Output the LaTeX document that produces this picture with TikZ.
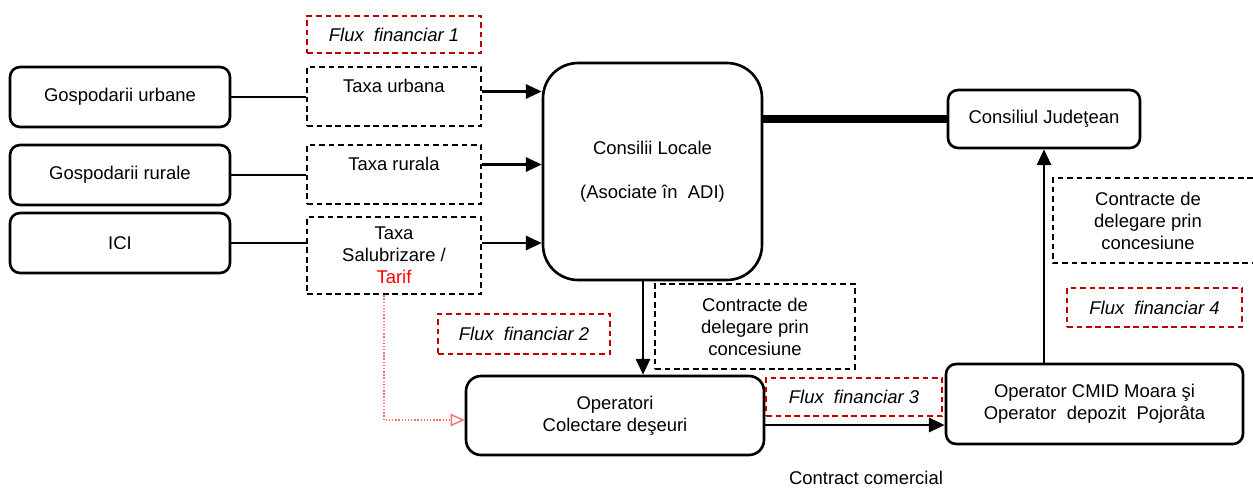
\documentclass[tikz,border=0pt]{standalone}
\usepackage{fontspec}
\setmainfont{Liberation Sans}
\usetikzlibrary{arrows.meta}
\definecolor{fluxred}{RGB}{192,0,0}
\definecolor{lightred}{RGB}{255,110,110}

\begin{document}
\begin{tikzpicture}[x=0.02cm, y=-0.02cm,
  font=\fontsize{10.5}{12.5}\selectfont,
  box/.style={draw, line width=1.5pt, rounded corners=0.2cm, align=center},
  dbox/.style={draw, line width=1.4pt, dash pattern=on 3.2pt off 2.2pt, align=center},
  rbox/.style={dbox, draw=fluxred, font=\fontsize{10.5}{12.5}\selectfont\itshape},
  arr/.style={line width=1.5pt, -{Triangle[length=9pt,width=8pt]}}]
\useasboundingbox (0,0) rectangle (1253,487);

% sursele
\node[box, minimum width=4.4cm, minimum height=1.2cm] (urban) at (120,97) {Gospodarii urbane};
\node[box, minimum width=4.4cm, minimum height=1.2cm] (rural) at (120,175) {Gospodarii rurale};
\node[box, minimum width=4.4cm, minimum height=1.2cm] (ici) at (120,243) {ICI};

% taxe
\node[rbox, minimum width=3.48cm, minimum height=0.74cm] (flux1) at (394,34.5) {Flux\ \ financiar 1};
\node[dbox, minimum width=3.48cm, minimum height=1.18cm] (taxurb) at (394,96.5) {Taxa urbana\\\mbox{}};
\node[dbox, minimum width=3.48cm, minimum height=1.18cm] (taxrur) at (394,174.5) {Taxa rurala\\\mbox{}};
\node[dbox, minimum width=3.48cm, minimum height=1.54cm] (taxsal) at (394,255.5) {Taxa\\Salubrizare /\\\textcolor{red}{Tarif}};

% consilii
\node[box, rounded corners=0.7cm, minimum width=4.38cm, minimum height=4.34cm] (locale) at (652.5,171.5) {Consilii Locale\\ \\(Asociate în\ \ ADI)};
\node[box, minimum width=3.84cm, minimum height=1.16cm] (judet) at (1044,119) {Consiliul Judeţean};

% operatori
\node[rbox, minimum width=3.44cm, minimum height=0.8cm] (flux2) at (524,334) {Flux\ \ financiar 2};
\node[dbox, minimum width=4.0cm, minimum height=1.7cm] (contr1) at (755,326.5) {Contracte de\\delegare prin\\concesiune};
\node[box, rounded corners=0.3cm, minimum width=5.96cm, minimum height=1.58cm] (colect) at (615,415.5) {Operatori\\Colectare deşeuri};
\node[rbox, minimum width=3.52cm, minimum height=0.76cm] (flux3) at (854,397) {Flux\ \ financiar 3};
\node[box, minimum width=5.94cm, minimum height=1.6cm] (cmid) at (1094.5,404) {Operator CMID Moara şi\\Operator\ \ depozit\ \ Pojorâta};
\node (contr2) at (1148,220.5) [align=center] {Contracte de\\delegare prin\\concesiune};
\draw[line width=1.4pt, dash pattern=on 3.2pt off 2.2pt] (1253,178) -- (1053,178) -- (1053,263) -- (1253,263);
\node[rbox, minimum width=3.5cm, minimum height=0.78cm] (flux4) at (1154.5,307.5) {Flux\ \ financiar 4};
\node (comerc) at (866,478) {Contract comercial};

% legaturi
\draw[line width=1.5pt] (urban.east) -- (urban.east -| taxurb.west);
\draw[line width=1.5pt] (rural.east) -- (rural.east -| taxrur.west);
\draw[line width=1.5pt] (ici.east) -- (ici.east -| taxsal.west);
\draw[arr] ([yshift=0.1cm]taxurb.east) -- ([yshift=0.1cm]taxurb.east -| locale.west);
\draw[arr] ([yshift=0.2cm]taxrur.east) -- ([yshift=0.2cm]taxrur.east -| locale.west);
\draw[arr] (taxsal.east |- ici.east) -- (ici.east -| locale.west);
\draw[line width=4.5pt] (locale.east |- judet.west) -- (judet.west);
\draw[arr] ([xshift=-0.19cm]locale.south) -- ([xshift=-0.19cm]locale.south |- colect.north);
\draw[arr] ([yshift=-0.19cm]colect.east) -- ([yshift=-0.19cm]colect.east -| cmid.west);
\draw[arr] (judet.south |- cmid.north) -- (judet.south);
\draw[lightred, densely dotted, line width=0.8pt, -{Triangle[open,length=8pt,width=7pt]}] ([xshift=-0.2cm]taxsal.south) |- ([yshift=-0.09cm]colect.west);
\end{tikzpicture}
\end{document}
